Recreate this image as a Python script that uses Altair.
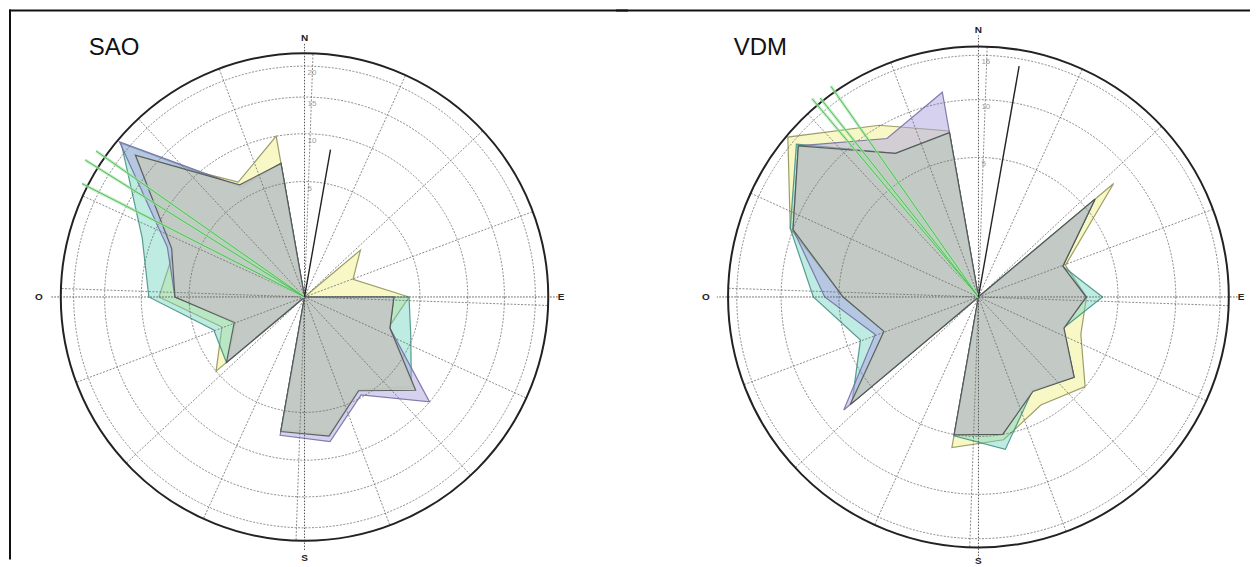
import altair as alt
import pandas as pd

# ---------------- data ----------------
angles = [10, 30, 50, 70, 90, 110, 130, 150, 170, 190, 210, 230, 250, 270, 290, 310, 330, 350]

sao_yellow = [0, 0, 2.0, 1.0, 4.1, 3.0, 7.6, 4.3, 7.2, 6.8, 0, 5.0, 2.9, 7.95, 7.2, 18.0, 6.6, 10.0]
sao_teal = [0, 0, 0, 0, 4.1, 4.8, 7.3, 4.3, 7.4, 6.9, 0, 3.9, 3.5, 9.1, 11.2, 21.5, 6.0, 6.9]
sao_lav = [0, 0, 0, 0, 3.0, 3.1, 10.0, 4.8, 8.1, 7.4, 0, 3.8, 2.0, 6.3, 8.0, 21.9, 6.1, 6.9]
sao_grey = [0, 0, 0, 0, 3.0, 3.1, 7.9, 4.4, 7.5, 7.0, 0, 3.9, 2.1, 6.3, 7.5, 18.3, 6.3, 6.9]

vdm_yellow = [0, 0, 8.0, 2.2, 3.0, 3.05, 4.98, 4.0, 5.4, 6.0, 0, 6.8, 2.6, 4.7, 10.3, 15.9, 10.1, 7.3]
vdm_teal = [0, 0, 5.95, 2.07, 3.96, 2.1, 4.0, 3.0, 6.15, 5.1, 0, 7.0, 4.05, 7.0, 10.3, 14.5, 7.06, 7.15]
vdm_lav = [0, 0, 5.95, 2.07, 3.0, 2.1, 4.0, 3.0, 5.0, 5.0, 0, 7.94, 3.1, 6.07, 10.0, 14.2, 8.6, 11.1]
vdm_grey = [0, 0, 5.95, 2.07, 2.97, 2.13, 4.01, 3.06, 5.0, 5.04, 0, 7.2, 2.6, 4.7, 10.0, 14.2, 7.06, 7.15]

sao_rings = [5, 10, 15, 20]
vdm_rings = [5, 10, 15]
sao_outer = 22.3
vdm_outer = 16.1

sao_mean_dir = [10]
sao_mean_len = [8.4]
vdm_mean_dir = [10]
vdm_mean_len = [14.1]

sao_green_dir = [297, 302, 305]
sao_green_len = [23.4, 25.1, 24.3]
vdm_green_dir = [320, 321.5, 325]
vdm_green_len = [17.2, 16.6, 17.0]

compass_labels = ["N", "E", "S", "O"]
compass_angles = [0, 90, 180, 270]

spoke_angles = [2 + 22.5 * i for i in range(16)]

series_names = ["Amarillo", "Verde", "Lila", "Gris"]
fills = ["#f2f28e", "#6fd2bf", "#aca4e0", "#c6cbc3"]
fill_op = [0.5, 0.45, 0.5, 0.86]
strokes = ["#8c8c50", "#3d8c80", "#6e6aa0", "#4a4f4a"]

H = 551


def panel(title, vals, rings, outer, mean_dir, mean_len, green_dir, green_len,
          K, W, cx, cy, axis_px, label_px, title_x, first=False):
    xs = alt.Scale(domain=[-cx / K, (W - cx) / K], nice=False, zero=False)
    ys = alt.Scale(domain=[-(H - cy) / K, cy / K], nice=False, zero=False)
    X = lambda f: alt.X(f, type="quantitative", scale=xs, axis=None)
    Y = lambda f: alt.Y(f, type="quantitative", scale=ys, axis=None)
    X2 = lambda f: alt.X2(f)
    Y2 = lambda f: alt.Y2(f)

    rows = []
    for s, v in zip(series_names, vals):
        for a, val in zip(angles, v):
            rows.append({"series": s, "angle": a, "value": val})
    pdf = pd.DataFrame(rows)

    layers = []
    for s, f, fo, st in zip(series_names, fills, fill_op, strokes):
        layers.append(
            alt.Chart(pdf).transform_filter(alt.datum.series == s)
            .transform_calculate(
                x="sqrt(datum.value)*sin(datum.angle*PI/180)",
                y="sqrt(datum.value)*cos(datum.angle*PI/180)")
            .mark_line(interpolate="linear-closed", fill=f, fillOpacity=fo,
                       stroke=st, strokeWidth=1.2, strokeOpacity=0.85)
            .encode(x=X("x"), y=Y("y"), order=alt.Order("angle:Q"))
        )

    ring_df = pd.DataFrame({"v": rings})
    layers.append(
        alt.Chart(ring_df).transform_calculate(
            x0="0", y0="0", sz=f"pow(2*{K}*sqrt(datum.v),2)")
        .mark_point(shape="circle", filled=False, stroke="#666666",
                    strokeWidth=0.9, strokeDash=[2, 1.5], opacity=0.85)
        .encode(x=X("x0"), y=Y("y0"), size=alt.Size("sz:Q", scale=None))
    )
    layers.append(
        alt.Chart(ring_df).transform_calculate(
            x0="0", y0="sqrt(datum.v)", lab="datum.v + ''")
        .mark_text(align="left", baseline="top", dx=3, dy=3, fontSize=8,
                   color="#9a9a9a", font="Liberation Sans")
        .encode(x=X("x0"), y=Y("y0"), text="lab:N")
    )
    spk = pd.DataFrame({"a": spoke_angles})
    layers.append(
        alt.Chart(spk).transform_calculate(
            x0="0", y0="0",
            x1=f"sqrt({outer})*sin(datum.a*PI/180)",
            y1=f"sqrt({outer})*cos(datum.a*PI/180)")
        .mark_rule(stroke="#666666", strokeWidth=0.9, strokeDash=[2, 1.5], opacity=0.85)
        .encode(x=X("x0"), y=Y("y0"), x2=X2("x1"), y2=Y2("y1"))
    )
    cmp = pd.DataFrame({"lab": compass_labels, "a": compass_angles, "rl": label_px})
    layers.append(
        alt.Chart(cmp).transform_calculate(
            x0="0", y0="0",
            x1=f"{axis_px / K}*sin(datum.a*PI/180)",
            y1=f"{axis_px / K}*cos(datum.a*PI/180)")
        .mark_rule(stroke="#555555", strokeWidth=1, strokeDash=[1.5, 1.5])
        .encode(x=X("x0"), y=Y("y0"), x2=X2("x1"), y2=Y2("y1"))
    )
    layers.append(
        alt.Chart(cmp).transform_calculate(
            x1=f"datum.rl/{K}*sin(datum.a*PI/180)",
            y1=f"datum.rl/{K}*cos(datum.a*PI/180)")
        .mark_text(fontSize=10, fontWeight="bold", color="#222222",
                   font="Liberation Sans", baseline="middle", align="center")
        .encode(x=X("x1"), y=Y("y1"), text="lab:N")
    )
    out_df = pd.DataFrame({"v": [outer]})
    layers.append(
        alt.Chart(out_df).transform_calculate(
            x0="0", y0="0", sz=f"pow(2*{K}*sqrt(datum.v),2)")
        .mark_point(shape="circle", filled=False, stroke="#222222",
                    strokeWidth=2, opacity=1)
        .encode(x=X("x0"), y=Y("y0"), size=alt.Size("sz:Q", scale=None))
    )
    gdf = pd.DataFrame({"a": green_dir, "v": green_len})
    gbase = alt.Chart(gdf).transform_calculate(
        x0="0", y0="0",
        x1="sqrt(datum.v)*sin(datum.a*PI/180)",
        y1="sqrt(datum.v)*cos(datum.a*PI/180)")
    layers.append(gbase.mark_rule(stroke="#a8e6a8", strokeWidth=3, opacity=0.7)
                  .encode(x=X("x0"), y=Y("y0"), x2=X2("x1"), y2=Y2("y1")))
    layers.append(gbase.mark_rule(stroke="#4cb65a", strokeWidth=1, opacity=0.9)
                  .encode(x=X("x0"), y=Y("y0"), x2=X2("x1"), y2=Y2("y1")))
    mdf = pd.DataFrame({"a": mean_dir, "v": mean_len})
    layers.append(
        alt.Chart(mdf).transform_calculate(
            x0="0", y0="0",
            x1="sqrt(datum.v)*sin(datum.a*PI/180)",
            y1="sqrt(datum.v)*cos(datum.a*PI/180)")
        .mark_rule(stroke="#222222", strokeWidth=1.4)
        .encode(x=X("x0"), y=Y("y0"), x2=X2("x1"), y2=Y2("y1"))
    )
    tdf = pd.DataFrame({"t": [title]})
    layers.append(
        alt.Chart(tdf).mark_text(fontSize=24, font="Liberation Sans", color="#111111",
                                 align="left", baseline="middle")
        .encode(text="t:N", x=alt.value(title_x), y=alt.value(39))
    )
    # frame: top line (and left line on the first panel)
    layers.append(
        alt.Chart(tdf).mark_rule(stroke="#111111", strokeWidth=2)
        .encode(x=alt.value(0 if first else -12), x2=alt.value(W), y=alt.value(1))
    )
    if first:
        layers.append(
            alt.Chart(tdf).mark_rule(stroke="#111111", strokeWidth=2)
            .encode(x=alt.value(1), y=alt.value(0), y2=alt.value(H))
        )
    return alt.layer(*layers).properties(width=W, height=H)


p1 = panel("SAO", [sao_yellow, sao_teal, sao_lav, sao_grey], sao_rings, sao_outer,
           sao_mean_dir, sao_mean_len, sao_green_dir, sao_green_len,
           K=51.7, W=620, cx=296, cy=288, axis_px=254, label_px=[259, 257, 261, 266],
           title_x=80, first=True)
p2 = panel("VDM", [vdm_yellow, vdm_teal, vdm_lav, vdm_grey], vdm_rings, vdm_outer,
           vdm_mean_dir, vdm_mean_len, vdm_green_dir, vdm_green_len,
           K=62.5, W=623, cx=351, cy=288, axis_px=262, label_px=[267, 263, 264, 273],
           title_x=106)

chart = alt.hconcat(p1, p2, spacing=0, bounds="flush").properties(
    padding=0).configure_view(stroke=None)

chart.save("out.html", embed_options={"renderer": "svg", "actions": False})
